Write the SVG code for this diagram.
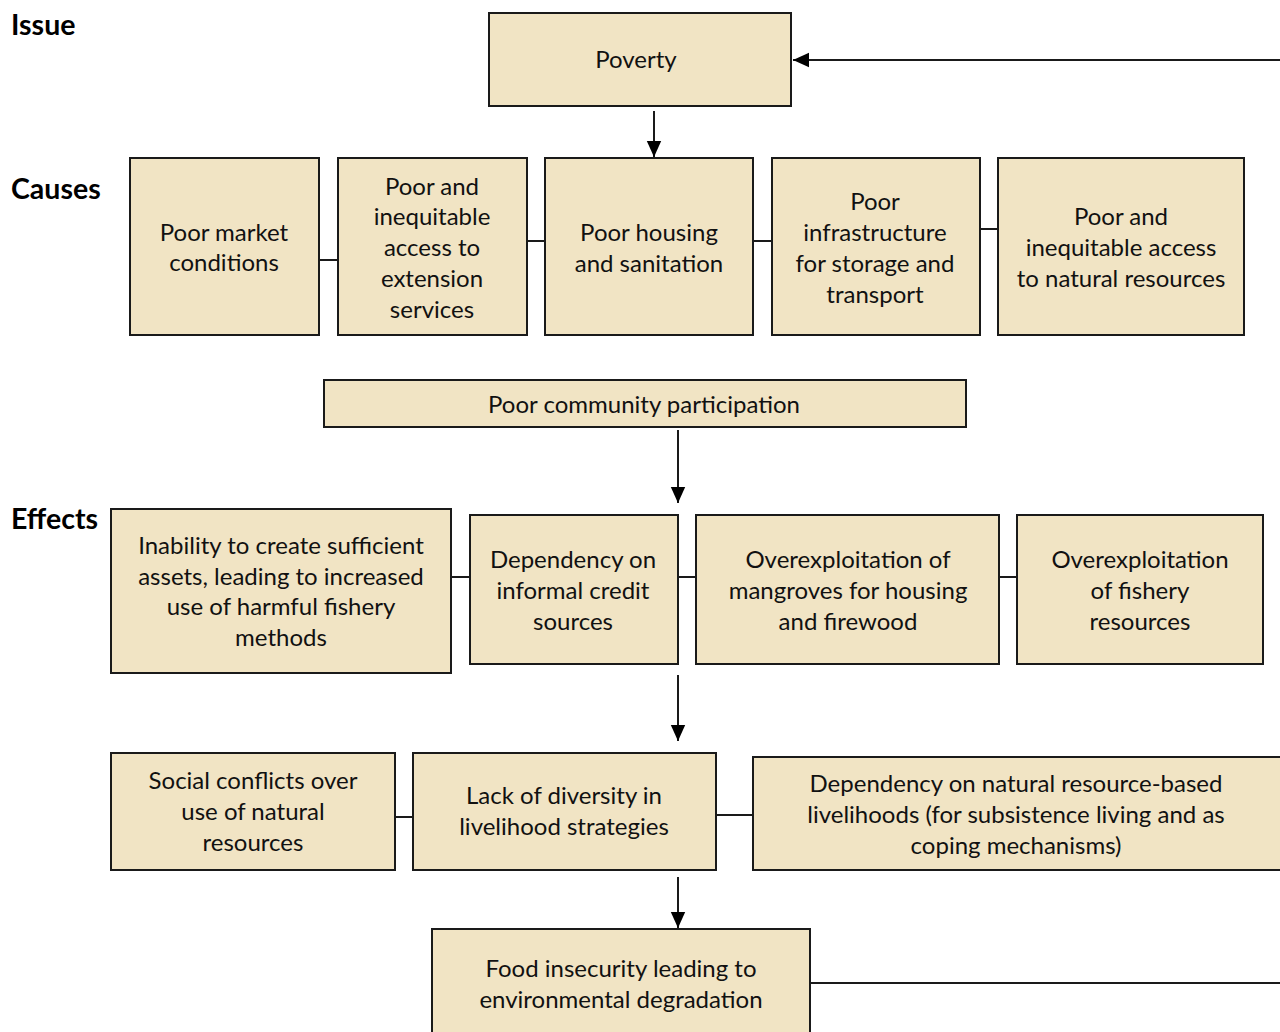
<svg xmlns="http://www.w3.org/2000/svg" width="1280" height="1032" viewBox="0 0 1280 1032">
<style>
.box{fill:#F1E4C4;stroke:#1a1a1a;stroke-width:2}
.t{font-family:Lato,"Open Sans","Liberation Sans",sans-serif;font-size:24px;fill:#111;text-anchor:middle}
.h{font-family:Lato,"Liberation Sans",sans-serif;font-size:28.5px;font-weight:bold;fill:#000}
.c{stroke:#1a1a1a;stroke-width:2;fill:none}
</style>
<defs>
<marker id="ah2" viewBox="0 0 10 10" refX="10" refY="5" markerWidth="16" markerHeight="16" markerUnits="userSpaceOnUse" orient="auto">
<path d="M0,0.5 L10,5 L0,9.5 z" fill="#000"/>
</marker>
</defs>
<rect width="1280" height="1032" fill="#fff"/>
<g id="labels">
<text class="h" x="11" y="35">Issue</text>
<text class="h" x="11" y="199">Causes</text>
<text class="h" x="11" y="529">Effects</text>
</g>
<g id="connectors">
<line class="c" x1="1280" y1="60" x2="793" y2="60" marker-end="url(#ah2)"/>
<line class="c" x1="654" y1="111" x2="654" y2="157" marker-end="url(#ah2)"/>
<line class="c" x1="319" y1="260" x2="338" y2="260"/>
<line class="c" x1="527" y1="241" x2="545" y2="241"/>
<line class="c" x1="753" y1="241" x2="772" y2="241"/>
<line class="c" x1="980" y1="229" x2="998" y2="229"/>
<line class="c" x1="678" y1="430" x2="678" y2="503" marker-end="url(#ah2)"/>
<line class="c" x1="451" y1="577" x2="470" y2="577"/>
<line class="c" x1="678" y1="577" x2="696" y2="577"/>
<line class="c" x1="999" y1="577" x2="1017" y2="577"/>
<line class="c" x1="678" y1="675" x2="678" y2="741" marker-end="url(#ah2)"/>
<line class="c" x1="395" y1="817" x2="413" y2="817"/>
<line class="c" x1="716" y1="815" x2="753" y2="815"/>
<line class="c" x1="678" y1="877" x2="678" y2="928" marker-end="url(#ah2)"/>
<line class="c" x1="810" y1="983" x2="1280" y2="983"/>
</g>
<g id="poverty">
<rect class="box" x="489" y="13" width="302" height="93"/>
<text class="t" x="636" y="68">Poverty</text>
</g>
<g id="cause1">
<rect class="box" x="130" y="158" width="189" height="177"/>
<text class="t" x="224" y="241">Poor market</text>
<text class="t" x="224" y="271">conditions</text>
</g>
<g id="cause2">
<rect class="box" x="338" y="158" width="189" height="177"/>
<text class="t" x="432" y="195">Poor and</text>
<text class="t" x="432" y="225">inequitable</text>
<text class="t" x="432" y="256">access to</text>
<text class="t" x="432" y="287">extension</text>
<text class="t" x="432" y="318">services</text>
</g>
<g id="cause3">
<rect class="box" x="545" y="158" width="208" height="177"/>
<text class="t" x="649" y="241">Poor housing</text>
<text class="t" x="649" y="272">and sanitation</text>
</g>
<g id="cause4">
<rect class="box" x="772" y="158" width="208" height="177"/>
<text class="t" x="875" y="210">Poor</text>
<text class="t" x="875" y="241">infrastructure</text>
<text class="t" x="875" y="272">for storage and</text>
<text class="t" x="875" y="303">transport</text>
</g>
<g id="cause5">
<rect class="box" x="998" y="158" width="246" height="177"/>
<text class="t" x="1121" y="225">Poor and</text>
<text class="t" x="1121" y="256">inequitable access</text>
<text class="t" x="1121" y="287">to natural resources</text>
</g>
<g id="participation">
<rect class="box" x="324" y="380" width="642" height="47"/>
<text class="t" x="644" y="413">Poor community participation</text>
</g>
<g id="effect1">
<rect class="box" x="111" y="509" width="340" height="164"/>
<text class="t" x="281" y="554">Inability to create sufficient</text>
<text class="t" x="281" y="585">assets, leading to increased</text>
<text class="t" x="281" y="615">use of harmful fishery</text>
<text class="t" x="281" y="646">methods</text>
</g>
<g id="effect2">
<rect class="box" x="470" y="515" width="208" height="149"/>
<text class="t" x="573" y="568">Dependency on</text>
<text class="t" x="573" y="599">informal credit</text>
<text class="t" x="573" y="630">sources</text>
</g>
<g id="effect3">
<rect class="box" x="696" y="515" width="303" height="149"/>
<text class="t" x="848" y="568">Overexploitation of</text>
<text class="t" x="848" y="599">mangroves for housing</text>
<text class="t" x="848" y="630">and firewood</text>
</g>
<g id="effect4">
<rect class="box" x="1017" y="515" width="246" height="149"/>
<text class="t" x="1140" y="568">Overexploitation</text>
<text class="t" x="1140" y="599">of fishery</text>
<text class="t" x="1140" y="630">resources</text>
</g>
<g id="effect5">
<rect class="box" x="111" y="753" width="284" height="117"/>
<text class="t" x="253" y="789">Social conflicts over</text>
<text class="t" x="253" y="820">use of natural</text>
<text class="t" x="253" y="851">resources</text>
</g>
<g id="effect6">
<rect class="box" x="413" y="753" width="303" height="117"/>
<text class="t" x="564" y="804">Lack of diversity in</text>
<text class="t" x="564" y="835">livelihood strategies</text>
</g>
<g id="effect7">
<rect class="box" x="753" y="757" width="540" height="113"/>
<text class="t" x="1016" y="792">Dependency on natural resource-based</text>
<text class="t" x="1016" y="823">livelihoods (for subsistence living and as</text>
<text class="t" x="1016" y="854">coping mechanisms)</text>
</g>
<g id="food">
<rect class="box" x="432" y="929" width="378" height="110"/>
<text class="t" x="621" y="977">Food insecurity leading to</text>
<text class="t" x="621" y="1008">environmental degradation</text>
</g>
</svg>
